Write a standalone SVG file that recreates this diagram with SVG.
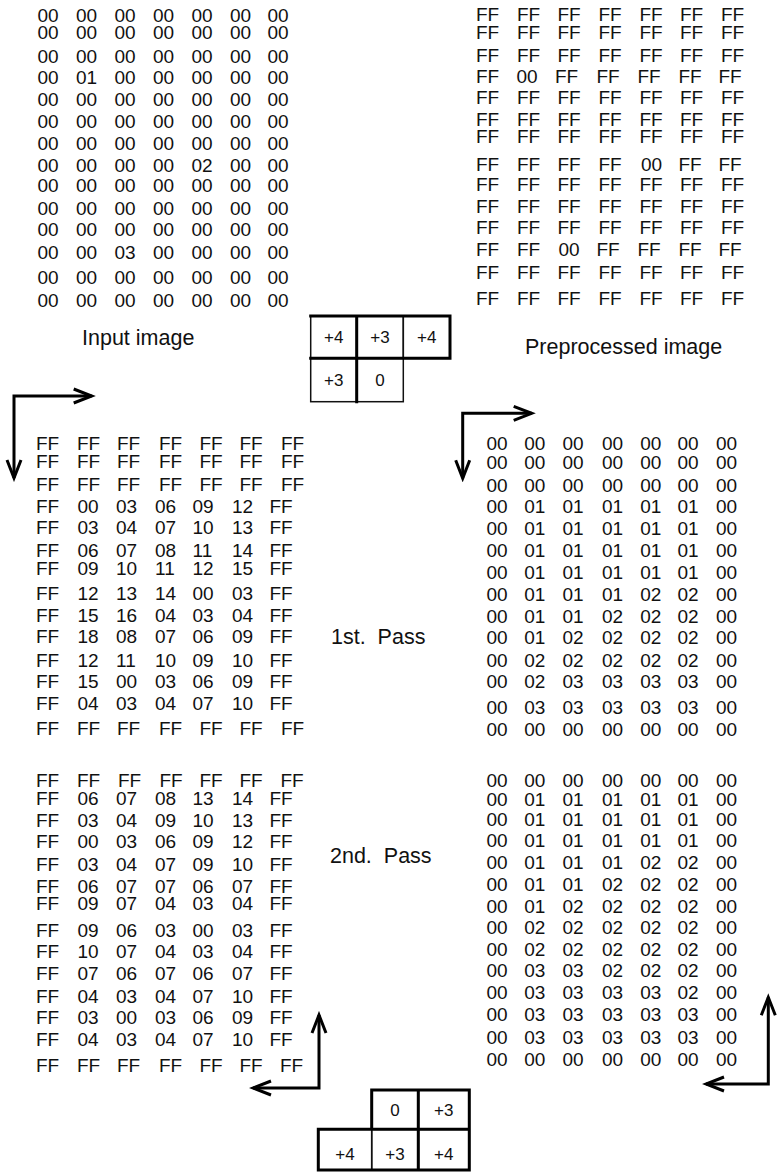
<svg xmlns="http://www.w3.org/2000/svg" width="777" height="1174" viewBox="0 0 777 1174">
<style>
text{font-family:"Liberation Sans",Arial,Helvetica,sans-serif;fill:#111;}
.m{font-size:19px;}
.lbl{font-size:21.5px;}
.k{font-size:17px;text-anchor:middle;}
.thin{fill:none;stroke:#111;stroke-width:1.5;}
.thick{fill:none;stroke:#000;stroke-width:3;stroke-linecap:square;}
.arr{fill:none;stroke:#000;stroke-width:3;marker-start:url(#ah);marker-end:url(#ah);}
</style>
<defs>
<marker id="ah" markerUnits="userSpaceOnUse" viewBox="-22 -11 26 22" markerWidth="26" markerHeight="22" refX="0" refY="0" orient="auto-start-reverse">
<path d="M-18,-7 L0,0 L-18,7" fill="none" stroke="#000" stroke-width="3" stroke-linejoin="miter"/>
</marker>
</defs>
<rect width="777" height="1174" fill="#fff"/>

<g id="input-image" class="m">
<text y="21.7"><tspan x="37.5">00</tspan><tspan x="76">00</tspan><tspan x="114.5">00</tspan><tspan x="153">00</tspan><tspan x="191.5">00</tspan><tspan x="230">00</tspan><tspan x="267.5">00</tspan></text>
<text y="39.3"><tspan x="37.5">00</tspan><tspan x="76">00</tspan><tspan x="114.5">00</tspan><tspan x="153">00</tspan><tspan x="191.5">00</tspan><tspan x="230">00</tspan><tspan x="267.5">00</tspan></text>
<text y="62.7"><tspan x="37.5">00</tspan><tspan x="76">00</tspan><tspan x="114.5">00</tspan><tspan x="153">00</tspan><tspan x="191.5">00</tspan><tspan x="230">00</tspan><tspan x="267.5">00</tspan></text>
<text y="84"><tspan x="37.5">00</tspan><tspan x="76">01</tspan><tspan x="114.5">00</tspan><tspan x="153">00</tspan><tspan x="191.5">00</tspan><tspan x="230">00</tspan><tspan x="267.5">00</tspan></text>
<text y="105.7"><tspan x="37.5">00</tspan><tspan x="76">00</tspan><tspan x="114.5">00</tspan><tspan x="153">00</tspan><tspan x="191.5">00</tspan><tspan x="230">00</tspan><tspan x="267.5">00</tspan></text>
<text y="127.7"><tspan x="37.5">00</tspan><tspan x="76">00</tspan><tspan x="114.5">00</tspan><tspan x="153">00</tspan><tspan x="191.5">00</tspan><tspan x="230">00</tspan><tspan x="267.5">00</tspan></text>
<text y="150"><tspan x="37.5">00</tspan><tspan x="76">00</tspan><tspan x="114.5">00</tspan><tspan x="153">00</tspan><tspan x="191.5">00</tspan><tspan x="230">00</tspan><tspan x="267.5">00</tspan></text>
<text y="171.7"><tspan x="37.5">00</tspan><tspan x="76">00</tspan><tspan x="114.5">00</tspan><tspan x="153">00</tspan><tspan x="191.5">02</tspan><tspan x="230">00</tspan><tspan x="267.5">00</tspan></text>
<text y="192.3"><tspan x="37.5">00</tspan><tspan x="76">00</tspan><tspan x="114.5">00</tspan><tspan x="153">00</tspan><tspan x="191.5">00</tspan><tspan x="230">00</tspan><tspan x="267.5">00</tspan></text>
<text y="215"><tspan x="37.5">00</tspan><tspan x="76">00</tspan><tspan x="114.5">00</tspan><tspan x="153">00</tspan><tspan x="191.5">00</tspan><tspan x="230">00</tspan><tspan x="267.5">00</tspan></text>
<text y="236"><tspan x="37.5">00</tspan><tspan x="76">00</tspan><tspan x="114.5">00</tspan><tspan x="153">00</tspan><tspan x="191.5">00</tspan><tspan x="230">00</tspan><tspan x="267.5">00</tspan></text>
<text y="259"><tspan x="37.5">00</tspan><tspan x="76">00</tspan><tspan x="114.5">03</tspan><tspan x="153">00</tspan><tspan x="191.5">00</tspan><tspan x="230">00</tspan><tspan x="267.5">00</tspan></text>
<text y="284"><tspan x="37.5">00</tspan><tspan x="76">00</tspan><tspan x="114.5">00</tspan><tspan x="153">00</tspan><tspan x="191.5">00</tspan><tspan x="230">00</tspan><tspan x="267.5">00</tspan></text>
<text y="306.7"><tspan x="37.5">00</tspan><tspan x="76">00</tspan><tspan x="114.5">00</tspan><tspan x="153">00</tspan><tspan x="191.5">00</tspan><tspan x="230">00</tspan><tspan x="267.5">00</tspan></text>
</g>

<g id="preprocessed-image" class="m">
<text y="21"><tspan x="476">FF</tspan><tspan x="517">FF</tspan><tspan x="557.5">FF</tspan><tspan x="598.5">FF</tspan><tspan x="639.5">FF</tspan><tspan x="680">FF</tspan><tspan x="721">FF</tspan></text>
<text y="38.5"><tspan x="476">FF</tspan><tspan x="517">FF</tspan><tspan x="557.5">FF</tspan><tspan x="598.5">FF</tspan><tspan x="639.5">FF</tspan><tspan x="680">FF</tspan><tspan x="721">FF</tspan></text>
<text y="61.7"><tspan x="476">FF</tspan><tspan x="517">FF</tspan><tspan x="557.5">FF</tspan><tspan x="598.5">FF</tspan><tspan x="639.5">FF</tspan><tspan x="680">FF</tspan><tspan x="721">FF</tspan></text>
<text y="82.7"><tspan x="476">FF</tspan><tspan x="516.5">00</tspan><tspan x="555">FF</tspan><tspan x="596.5">FF</tspan><tspan x="637.5">FF</tspan><tspan x="678.5">FF</tspan><tspan x="718.5">FF</tspan></text>
<text y="104"><tspan x="476">FF</tspan><tspan x="517">FF</tspan><tspan x="557.5">FF</tspan><tspan x="598.5">FF</tspan><tspan x="639.5">FF</tspan><tspan x="680">FF</tspan><tspan x="721">FF</tspan></text>
<text y="126"><tspan x="476">FF</tspan><tspan x="517">FF</tspan><tspan x="557.5">FF</tspan><tspan x="598.5">FF</tspan><tspan x="639.5">FF</tspan><tspan x="680">FF</tspan><tspan x="721">FF</tspan></text>
<text y="143.3"><tspan x="476">FF</tspan><tspan x="517">FF</tspan><tspan x="557.5">FF</tspan><tspan x="598.5">FF</tspan><tspan x="639.5">FF</tspan><tspan x="680">FF</tspan><tspan x="721">FF</tspan></text>
<text y="170.7"><tspan x="476">FF</tspan><tspan x="517">FF</tspan><tspan x="557.5">FF</tspan><tspan x="598.5">FF</tspan><tspan x="641">00</tspan><tspan x="678.5">FF</tspan><tspan x="718.5">FF</tspan></text>
<text y="190.7"><tspan x="476">FF</tspan><tspan x="517">FF</tspan><tspan x="557.5">FF</tspan><tspan x="598.5">FF</tspan><tspan x="639.5">FF</tspan><tspan x="680">FF</tspan><tspan x="721">FF</tspan></text>
<text y="212.7"><tspan x="476">FF</tspan><tspan x="517">FF</tspan><tspan x="557.5">FF</tspan><tspan x="598.5">FF</tspan><tspan x="639.5">FF</tspan><tspan x="680">FF</tspan><tspan x="721">FF</tspan></text>
<text y="234"><tspan x="476">FF</tspan><tspan x="517">FF</tspan><tspan x="557.5">FF</tspan><tspan x="598.5">FF</tspan><tspan x="639.5">FF</tspan><tspan x="680">FF</tspan><tspan x="721">FF</tspan></text>
<text y="256"><tspan x="476">FF</tspan><tspan x="517">FF</tspan><tspan x="558.5">00</tspan><tspan x="596.5">FF</tspan><tspan x="637.5">FF</tspan><tspan x="678.5">FF</tspan><tspan x="718.5">FF</tspan></text>
<text y="279.3"><tspan x="476">FF</tspan><tspan x="517">FF</tspan><tspan x="557.5">FF</tspan><tspan x="598.5">FF</tspan><tspan x="639.5">FF</tspan><tspan x="680">FF</tspan><tspan x="721">FF</tspan></text>
<text y="305"><tspan x="476">FF</tspan><tspan x="517">FF</tspan><tspan x="557.5">FF</tspan><tspan x="598.5">FF</tspan><tspan x="639.5">FF</tspan><tspan x="680">FF</tspan><tspan x="721">FF</tspan></text>
</g>

<g id="labels" class="lbl">
<text id="label-input" x="82" y="345">Input image</text>
<text id="label-preprocessed" x="525" y="354">Preprocessed image</text>
<text id="label-1st" x="331" y="644" xml:space="preserve">1st.  Pass</text>
<text id="label-2nd" x="330" y="863" xml:space="preserve">2nd.  Pass</text>
</g>

<g id="kernel-forward">
<rect class="thin" x="310.7" y="316" width="46" height="42.3"/>
<rect class="thin" x="356.7" y="316" width="46.6" height="42.3"/>
<rect class="thin" x="403.3" y="316" width="46.7" height="42.3"/>
<rect class="thin" x="310.7" y="358.3" width="46" height="43.4"/>
<rect class="thin" x="356.7" y="358.3" width="46.6" height="43.4"/>
<path class="thick" d="M310.7,316 H450 V358.3 M310.7,358.3 H450 M356.7,316 V401.7"/>
<text class="k" x="333.7" y="343">+4</text>
<text class="k" x="380" y="343">+3</text>
<text class="k" x="426.7" y="343">+4</text>
<text class="k" x="333.7" y="386">+3</text>
<text class="k" x="380" y="386">0</text>
</g>

<g id="first-pass-left" class="m">
<text y="450"><tspan x="36">FF</tspan><tspan x="77">FF</tspan><tspan x="117">FF</tspan><tspan x="159">FF</tspan><tspan x="199.5">FF</tspan><tspan x="239.5">FF</tspan><tspan x="281">FF</tspan></text>
<text y="467.7"><tspan x="36">FF</tspan><tspan x="77">FF</tspan><tspan x="117">FF</tspan><tspan x="159">FF</tspan><tspan x="199.5">FF</tspan><tspan x="239.5">FF</tspan><tspan x="281">FF</tspan></text>
<text y="490.7"><tspan x="36">FF</tspan><tspan x="77">FF</tspan><tspan x="117">FF</tspan><tspan x="159">FF</tspan><tspan x="199.5">FF</tspan><tspan x="239.5">FF</tspan><tspan x="281">FF</tspan></text>
<text y="512.7"><tspan x="36">FF</tspan><tspan x="77.5">00</tspan><tspan x="116">03</tspan><tspan x="155">06</tspan><tspan x="192.5">09</tspan><tspan x="232">12</tspan><tspan x="269.5">FF</tspan></text>
<text y="534.3"><tspan x="36">FF</tspan><tspan x="77.5">03</tspan><tspan x="116">04</tspan><tspan x="155">07</tspan><tspan x="192.5">10</tspan><tspan x="232">13</tspan><tspan x="269.5">FF</tspan></text>
<text y="556.7"><tspan x="36">FF</tspan><tspan x="77.5">06</tspan><tspan x="116">07</tspan><tspan x="155">08</tspan><tspan x="192.5">11</tspan><tspan x="232">14</tspan><tspan x="269.5">FF</tspan></text>
<text y="575"><tspan x="36">FF</tspan><tspan x="77.5">09</tspan><tspan x="116">10</tspan><tspan x="155">11</tspan><tspan x="192.5">12</tspan><tspan x="232">15</tspan><tspan x="269.5">FF</tspan></text>
<text y="600"><tspan x="36">FF</tspan><tspan x="77.5">12</tspan><tspan x="116">13</tspan><tspan x="155">14</tspan><tspan x="192.5">00</tspan><tspan x="232">03</tspan><tspan x="269.5">FF</tspan></text>
<text y="621.7"><tspan x="36">FF</tspan><tspan x="77.5">15</tspan><tspan x="116">16</tspan><tspan x="155">04</tspan><tspan x="192.5">03</tspan><tspan x="232">04</tspan><tspan x="269.5">FF</tspan></text>
<text y="643.3"><tspan x="36">FF</tspan><tspan x="77.5">18</tspan><tspan x="116">08</tspan><tspan x="155">07</tspan><tspan x="192.5">06</tspan><tspan x="232">09</tspan><tspan x="269.5">FF</tspan></text>
<text y="666.7"><tspan x="36">FF</tspan><tspan x="77.5">12</tspan><tspan x="116">11</tspan><tspan x="155">10</tspan><tspan x="192.5">09</tspan><tspan x="232">10</tspan><tspan x="269.5">FF</tspan></text>
<text y="688.3"><tspan x="36">FF</tspan><tspan x="77.5">15</tspan><tspan x="116">00</tspan><tspan x="155">03</tspan><tspan x="192.5">06</tspan><tspan x="232">09</tspan><tspan x="269.5">FF</tspan></text>
<text y="710"><tspan x="36">FF</tspan><tspan x="77.5">04</tspan><tspan x="116">03</tspan><tspan x="155">04</tspan><tspan x="192.5">07</tspan><tspan x="232">10</tspan><tspan x="269.5">FF</tspan></text>
<text y="735"><tspan x="36">FF</tspan><tspan x="77">FF</tspan><tspan x="117">FF</tspan><tspan x="159">FF</tspan><tspan x="199.5">FF</tspan><tspan x="239.5">FF</tspan><tspan x="281">FF</tspan></text>
</g>

<g id="first-pass-right" class="m">
<text y="450"><tspan x="486.5">00</tspan><tspan x="524.2">00</tspan><tspan x="562.5">00</tspan><tspan x="602">00</tspan><tspan x="640.2">00</tspan><tspan x="677.5">00</tspan><tspan x="716">00</tspan></text>
<text y="469.3"><tspan x="486.5">00</tspan><tspan x="524.2">00</tspan><tspan x="562.5">00</tspan><tspan x="602">00</tspan><tspan x="640.2">00</tspan><tspan x="677.5">00</tspan><tspan x="716">00</tspan></text>
<text y="491.7"><tspan x="486.5">00</tspan><tspan x="524.2">00</tspan><tspan x="562.5">00</tspan><tspan x="602">00</tspan><tspan x="640.2">00</tspan><tspan x="677.5">00</tspan><tspan x="716">00</tspan></text>
<text y="513.3"><tspan x="486.5">00</tspan><tspan x="524.2">01</tspan><tspan x="562.5">01</tspan><tspan x="602">01</tspan><tspan x="640.2">01</tspan><tspan x="677.5">01</tspan><tspan x="716">00</tspan></text>
<text y="535"><tspan x="486.5">00</tspan><tspan x="524.2">01</tspan><tspan x="562.5">01</tspan><tspan x="602">01</tspan><tspan x="640.2">01</tspan><tspan x="677.5">01</tspan><tspan x="716">00</tspan></text>
<text y="557.3"><tspan x="486.5">00</tspan><tspan x="524.2">01</tspan><tspan x="562.5">01</tspan><tspan x="602">01</tspan><tspan x="640.2">01</tspan><tspan x="677.5">01</tspan><tspan x="716">00</tspan></text>
<text y="579"><tspan x="486.5">00</tspan><tspan x="524.2">01</tspan><tspan x="562.5">01</tspan><tspan x="602">01</tspan><tspan x="640.2">01</tspan><tspan x="677.5">01</tspan><tspan x="716">00</tspan></text>
<text y="600.7"><tspan x="486.5">00</tspan><tspan x="524.2">01</tspan><tspan x="562.5">01</tspan><tspan x="602">01</tspan><tspan x="640.2">02</tspan><tspan x="677.5">02</tspan><tspan x="716">00</tspan></text>
<text y="622.7"><tspan x="486.5">00</tspan><tspan x="524.2">01</tspan><tspan x="562.5">01</tspan><tspan x="602">02</tspan><tspan x="640.2">02</tspan><tspan x="677.5">02</tspan><tspan x="716">00</tspan></text>
<text y="644"><tspan x="486.5">00</tspan><tspan x="524.2">01</tspan><tspan x="562.5">02</tspan><tspan x="602">02</tspan><tspan x="640.2">02</tspan><tspan x="677.5">02</tspan><tspan x="716">00</tspan></text>
<text y="667.3"><tspan x="486.5">00</tspan><tspan x="524.2">02</tspan><tspan x="562.5">02</tspan><tspan x="602">02</tspan><tspan x="640.2">02</tspan><tspan x="677.5">02</tspan><tspan x="716">00</tspan></text>
<text y="688.3"><tspan x="486.5">00</tspan><tspan x="524.2">02</tspan><tspan x="562.5">03</tspan><tspan x="602">03</tspan><tspan x="640.2">03</tspan><tspan x="677.5">03</tspan><tspan x="716">00</tspan></text>
<text y="714"><tspan x="486.5">00</tspan><tspan x="524.2">03</tspan><tspan x="562.5">03</tspan><tspan x="602">03</tspan><tspan x="640.2">03</tspan><tspan x="677.5">03</tspan><tspan x="716">00</tspan></text>
<text y="736"><tspan x="486.5">00</tspan><tspan x="524.2">00</tspan><tspan x="562.5">00</tspan><tspan x="602">00</tspan><tspan x="640.2">00</tspan><tspan x="677.5">00</tspan><tspan x="716">00</tspan></text>
</g>

<g id="second-pass-left" class="m">
<text y="786.7"><tspan x="36">FF</tspan><tspan x="77">FF</tspan><tspan x="118">FF</tspan><tspan x="159.5">FF</tspan><tspan x="199.5">FF</tspan><tspan x="239.5">FF</tspan><tspan x="280.5">FF</tspan></text>
<text y="805"><tspan x="36">FF</tspan><tspan x="77.5">06</tspan><tspan x="116">07</tspan><tspan x="155">08</tspan><tspan x="192.5">13</tspan><tspan x="232">14</tspan><tspan x="269.5">FF</tspan></text>
<text y="826.7"><tspan x="36">FF</tspan><tspan x="77.5">03</tspan><tspan x="116">04</tspan><tspan x="155">09</tspan><tspan x="192.5">10</tspan><tspan x="232">13</tspan><tspan x="269.5">FF</tspan></text>
<text y="848.3"><tspan x="36">FF</tspan><tspan x="77.5">00</tspan><tspan x="116">03</tspan><tspan x="155">06</tspan><tspan x="192.5">09</tspan><tspan x="232">12</tspan><tspan x="269.5">FF</tspan></text>
<text y="870.7"><tspan x="36">FF</tspan><tspan x="77.5">03</tspan><tspan x="116">04</tspan><tspan x="155">07</tspan><tspan x="192.5">09</tspan><tspan x="232">10</tspan><tspan x="269.5">FF</tspan></text>
<text y="892.7"><tspan x="36">FF</tspan><tspan x="77.5">06</tspan><tspan x="116">07</tspan><tspan x="155">07</tspan><tspan x="192.5">06</tspan><tspan x="232">07</tspan><tspan x="269.5">FF</tspan></text>
<text y="910"><tspan x="36">FF</tspan><tspan x="77.5">09</tspan><tspan x="116">07</tspan><tspan x="155">04</tspan><tspan x="192.5">03</tspan><tspan x="232">04</tspan><tspan x="269.5">FF</tspan></text>
<text y="936.7"><tspan x="36">FF</tspan><tspan x="77.5">09</tspan><tspan x="116">06</tspan><tspan x="155">03</tspan><tspan x="192.5">00</tspan><tspan x="232">03</tspan><tspan x="269.5">FF</tspan></text>
<text y="958.3"><tspan x="36">FF</tspan><tspan x="77.5">10</tspan><tspan x="116">07</tspan><tspan x="155">04</tspan><tspan x="192.5">03</tspan><tspan x="232">04</tspan><tspan x="269.5">FF</tspan></text>
<text y="980"><tspan x="36">FF</tspan><tspan x="77.5">07</tspan><tspan x="116">06</tspan><tspan x="155">07</tspan><tspan x="192.5">06</tspan><tspan x="232">07</tspan><tspan x="269.5">FF</tspan></text>
<text y="1002.7"><tspan x="36">FF</tspan><tspan x="77.5">04</tspan><tspan x="116">03</tspan><tspan x="155">04</tspan><tspan x="192.5">07</tspan><tspan x="232">10</tspan><tspan x="269.5">FF</tspan></text>
<text y="1024"><tspan x="36">FF</tspan><tspan x="77.5">03</tspan><tspan x="116">00</tspan><tspan x="155">03</tspan><tspan x="192.5">06</tspan><tspan x="232">09</tspan><tspan x="269.5">FF</tspan></text>
<text y="1045.7"><tspan x="36">FF</tspan><tspan x="77.5">04</tspan><tspan x="116">03</tspan><tspan x="155">04</tspan><tspan x="192.5">07</tspan><tspan x="232">10</tspan><tspan x="269.5">FF</tspan></text>
<text y="1072"><tspan x="36">FF</tspan><tspan x="77">FF</tspan><tspan x="117">FF</tspan><tspan x="159">FF</tspan><tspan x="199.5">FF</tspan><tspan x="239.5">FF</tspan><tspan x="280">FF</tspan></text>
</g>

<g id="second-pass-right" class="m">
<text y="787.3"><tspan x="486.5">00</tspan><tspan x="524.2">00</tspan><tspan x="562.5">00</tspan><tspan x="602">00</tspan><tspan x="640.2">00</tspan><tspan x="677.5">00</tspan><tspan x="716">00</tspan></text>
<text y="806"><tspan x="486.5">00</tspan><tspan x="524.2">01</tspan><tspan x="562.5">01</tspan><tspan x="602">01</tspan><tspan x="640.2">01</tspan><tspan x="677.5">01</tspan><tspan x="716">00</tspan></text>
<text y="826"><tspan x="486.5">00</tspan><tspan x="524.2">01</tspan><tspan x="562.5">01</tspan><tspan x="602">01</tspan><tspan x="640.2">01</tspan><tspan x="677.5">01</tspan><tspan x="716">00</tspan></text>
<text y="847.3"><tspan x="486.5">00</tspan><tspan x="524.2">01</tspan><tspan x="562.5">01</tspan><tspan x="602">01</tspan><tspan x="640.2">01</tspan><tspan x="677.5">01</tspan><tspan x="716">00</tspan></text>
<text y="869.3"><tspan x="486.5">00</tspan><tspan x="524.2">01</tspan><tspan x="562.5">01</tspan><tspan x="602">01</tspan><tspan x="640.2">02</tspan><tspan x="677.5">02</tspan><tspan x="716">00</tspan></text>
<text y="891"><tspan x="486.5">00</tspan><tspan x="524.2">01</tspan><tspan x="562.5">01</tspan><tspan x="602">02</tspan><tspan x="640.2">02</tspan><tspan x="677.5">02</tspan><tspan x="716">00</tspan></text>
<text y="912.7"><tspan x="486.5">00</tspan><tspan x="524.2">01</tspan><tspan x="562.5">02</tspan><tspan x="602">02</tspan><tspan x="640.2">02</tspan><tspan x="677.5">02</tspan><tspan x="716">00</tspan></text>
<text y="934"><tspan x="486.5">00</tspan><tspan x="524.2">02</tspan><tspan x="562.5">02</tspan><tspan x="602">02</tspan><tspan x="640.2">02</tspan><tspan x="677.5">02</tspan><tspan x="716">00</tspan></text>
<text y="956"><tspan x="486.5">00</tspan><tspan x="524.2">02</tspan><tspan x="562.5">02</tspan><tspan x="602">02</tspan><tspan x="640.2">02</tspan><tspan x="677.5">02</tspan><tspan x="716">00</tspan></text>
<text y="977.3"><tspan x="486.5">00</tspan><tspan x="524.2">03</tspan><tspan x="562.5">03</tspan><tspan x="602">02</tspan><tspan x="640.2">02</tspan><tspan x="677.5">02</tspan><tspan x="716">00</tspan></text>
<text y="999.3"><tspan x="486.5">00</tspan><tspan x="524.2">03</tspan><tspan x="562.5">03</tspan><tspan x="602">03</tspan><tspan x="640.2">03</tspan><tspan x="677.5">02</tspan><tspan x="716">00</tspan></text>
<text y="1020.7"><tspan x="486.5">00</tspan><tspan x="524.2">03</tspan><tspan x="562.5">03</tspan><tspan x="602">03</tspan><tspan x="640.2">03</tspan><tspan x="677.5">03</tspan><tspan x="716">00</tspan></text>
<text y="1044"><tspan x="486.5">00</tspan><tspan x="524.2">03</tspan><tspan x="562.5">03</tspan><tspan x="602">03</tspan><tspan x="640.2">03</tspan><tspan x="677.5">03</tspan><tspan x="716">00</tspan></text>
<text y="1066"><tspan x="486.5">00</tspan><tspan x="524.2">00</tspan><tspan x="562.5">00</tspan><tspan x="602">00</tspan><tspan x="640.2">00</tspan><tspan x="677.5">00</tspan><tspan x="716">00</tspan></text>
</g>

<g id="kernel-backward">
<rect class="thin" x="371.7" y="1090" width="46.6" height="39.3"/>
<rect class="thin" x="418.3" y="1090" width="51" height="39.3"/>
<rect class="thin" x="318.3" y="1129.3" width="53.4" height="40.7"/>
<rect class="thin" x="371.7" y="1129.3" width="46.6" height="40.7"/>
<rect class="thin" x="418.3" y="1129.3" width="51" height="40.7"/>
<path class="thick" d="M371.7,1129.3 V1090 H469.3 V1170 H318.3 V1129.3 H469.3 M418.3,1090 V1170"/>
<text class="k" x="395" y="1116">0</text>
<text class="k" x="443.8" y="1116">+3</text>
<text class="k" x="345" y="1160">+4</text>
<text class="k" x="395" y="1160">+3</text>
<text class="k" x="443.8" y="1160">+4</text>
</g>

<g id="connectors">
<path id="scan-forward-left" class="arr" d="M91.7,396 H14 V478"/>
<path id="scan-forward-right" class="arr" d="M531.7,413.3 H462.7 V478.3"/>
<path id="scan-backward-left" class="arr" d="M319,1015 V1088 H253"/>
<path id="scan-backward-right" class="arr" d="M768.3,997.3 V1084 H706"/>
</g>
</svg>
